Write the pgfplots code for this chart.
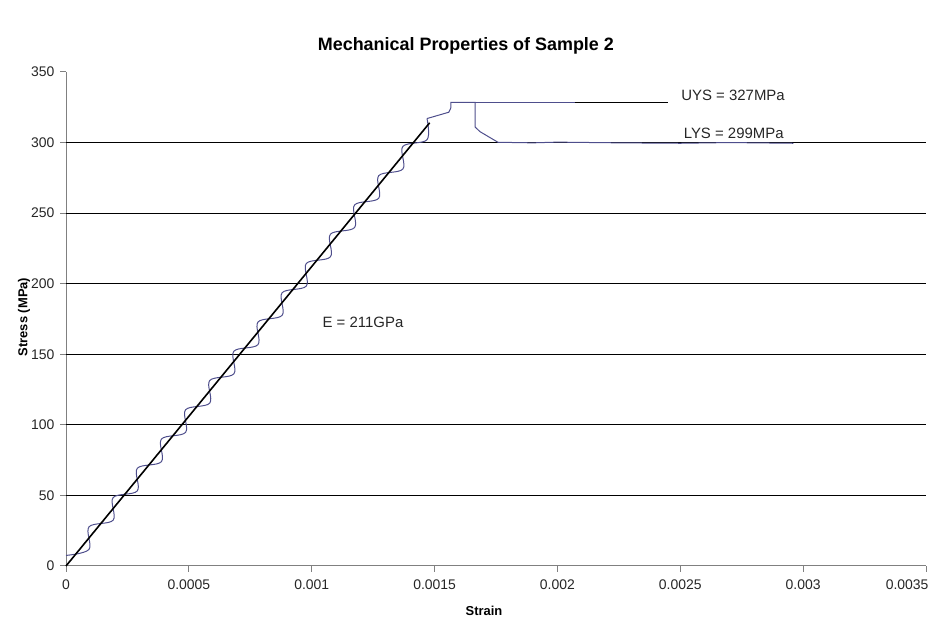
\documentclass[border=0pt]{standalone}
\usepackage{fontspec}
\setmainfont{Liberation Sans}
\usepackage{pgfplots}
\pgfplotsset{compat=1.18}
\definecolor{dataline}{RGB}{78,78,140}
\definecolor{axgray}{RGB}{128,128,128}
\begin{document}
\begin{tikzpicture}[x=1bp,y=1bp]
\useasboundingbox (0,0) rectangle (932,623);
\begin{axis}[
  at={(66bp,57bp)}, anchor=south west,
  scale only axis, width=860bp, height=494bp,
  xmin=0, xmax=0.0035, ymin=0, ymax=350,
  axis x line*=bottom, axis y line*=left,
  axis line style={axgray, line width=1bp},
  xtick={0,0.0005,0.001,0.0015,0.002,0.0025,0.003},
  xticklabels={0,0.0005,0.001,0.0015,0.002,0.0025,0.003},
  extra x ticks={0.0035},
  extra x tick labels={0.0035},
  extra x tick style={xticklabel style={anchor=north east, xshift=6bp}},
  scaled x ticks=false,
  ytick={0,50,100,150,200,250,300,350},
  yticklabels={0,50,100,150,200,250,300,350},
  tick align=outside, major tick length=6bp,
  tick style={axgray, line width=1bp},
  extra y ticks={50,100,150,200,250,300},
  extra y tick labels={},
  extra y tick style={grid=major, major tick length=0pt},
  major grid style={black, line width=0.8bp},
  tick label style={font=\fontsize{14}{14}\selectfont, text=black!85},
  xticklabel style={yshift=-4bp},
  yticklabel style={xshift=-2bp},
  xlabel={Strain},
  xlabel style={font=\bfseries\fontsize{13}{13}\selectfont, at={(axis description cs:0.486,-0.091)}, anchor=center},
  ylabel={Stress (MPa)},
  ylabel style={font=\bfseries\fontsize{13}{13}\selectfont, at={(axis description cs:-0.0488,0.504)}, anchor=center},
  title={Mechanical Properties of Sample 2},
  title style={font=\bfseries\fontsize{18}{18}\selectfont, at={(axis description cs:0.465,1.0405)}, anchor=center},
  clip=false,
]
% annotation lines
\addplot[dataline, line width=0.9bp] coordinates {(0.001665,328.5) (0.00207,328.5)};
\addplot[black, line width=0.9bp] coordinates {(0.00207,328.5) (0.00245,328.5)};
\addplot[black, line width=0.9bp] coordinates {(0.00205,300.2) (0.00298,300.2)};
% measured stress-strain data (smoothed, elastic part)
\addplot[dataline, line width=1bp, smooth, tension=0.55] coordinates {
(0,7.5)
(0.0000936,11.75) (0.0000936,27.75)
(0.0001919,32.48) (0.0001919,48.48)
(0.0002901,53.21) (0.0002901,69.21)
(0.0003884,73.94) (0.0003884,89.94)
(0.0004866,94.67) (0.0004866,110.67)
(0.0005849,115.41) (0.0005849,131.41)
(0.0006831,136.14) (0.0006831,152.14)
(0.0007814,156.87) (0.0007814,172.87)
(0.0008796,177.60) (0.0008796,193.60)
(0.0009779,198.33) (0.0009779,214.33)
(0.0010761,219.06) (0.0010761,235.06)
(0.0011744,239.79) (0.0011744,255.79)
(0.0012726,260.52) (0.0012726,276.52)
(0.0013709,281.25) (0.0013709,297.25)
(0.0014691,301.98) (0.0014691,317)
};
% yield part
\addplot[dataline, line width=1bp] coordinates {
(0.0014691,317) (0.001558,321.5) (0.001566,324.5) (0.001566,328.5)
(0.001665,328.5) (0.001665,311) (0.001685,307.7) (0.001758,300.2)
(0.00190,299.8) (0.00200,300.3) (0.00225,299.8) (0.00250,299.5) (0.00270,300.0) (0.00296,299.5)
};
% linear fit
\addplot[black, line width=1.6bp] coordinates {(0,0) (0.00148,314)};
\node[anchor=west, font=\fontsize{15}{15}\selectfont, text=black!85] at (axis cs:0.00249,333.7) {UYS = 327MPa};
\node[anchor=west, font=\fontsize{15}{15}\selectfont, text=black!85] at (axis cs:0.00250,306.8) {LYS = 299MPa};
\node[anchor=west, font=\fontsize{15}{15}\selectfont, text=black!85] at (axis cs:0.00103,172.4) {E = 211GPa};
\end{axis}
\end{tikzpicture}
\end{document}
